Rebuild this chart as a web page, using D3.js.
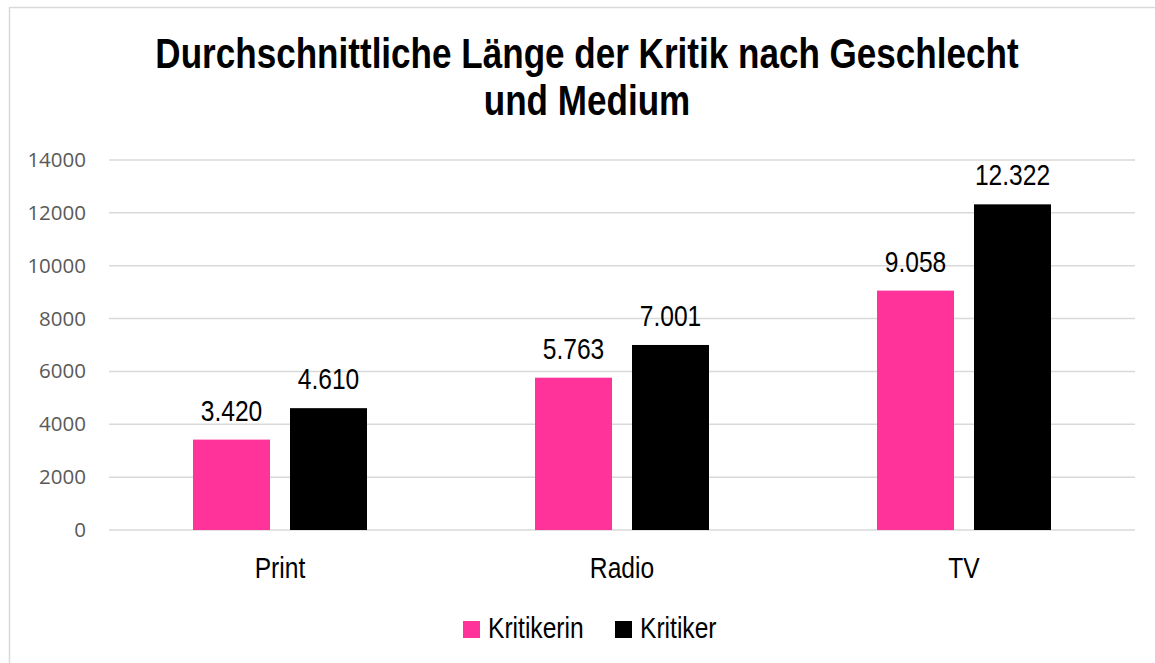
<!DOCTYPE html>
<html>
<head>
<meta charset="utf-8">
<script src="https://cdn.jsdelivr.net/npm/d3@7"></script>
<style>
  body { margin: 0; background: #fff; }
  .narrow { font-family: "Liberation Sans Narrow", "Arial Narrow", "Liberation Sans", Arial, sans-serif; }
</style>
</head>
<body>
<svg width="1155" height="663"></svg>
<script>
  var categories = ['Print', 'Radio', 'TV'];
  var seriesNames = ['Kritikerin', 'Kritiker'];
  var kritikerin = [3420, 5763, 9058];
  var kritiker = [4610, 7001, 12322];
  var yTicks = [0, 2000, 4000, 6000, 8000, 10000, 12000, 14000];
  var colors = ['#ff3399', '#000000'];

  (function() {
  'use strict';

  var svg = d3.select('svg');
  var plotLeft = 109, plotRight = 1135, plotTop = 160, plotBottom = 530;
  // no narrow font installed, so squeeze the regular one
  var squeeze = 0.82;

  function narrowAt(x, yy, k) {
    return 'translate(' + x + ',' + yy + ') scale(' + (k || squeeze) + ',1)';
  }

  // chart frame
  svg.append('rect')
    .attr('x', 9.5).attr('y', 7.5)
    .attr('width', 1160).attr('height', 670)
    .attr('fill', 'none')
    .attr('stroke', '#d9d9d9')
    .attr('stroke-width', 1.5);

  // title
  var titleLines = ['Durchschnittliche Länge der Kritik nach Geschlecht', 'und Medium'];
  svg.append('g')
    .selectAll('text')
    .data(titleLines)
    .join('text')
    .attr('class', 'narrow')
    .attr('text-anchor', 'middle')
    .attr('transform', function(d, i) { return narrowAt(587, 68 + i * 47, 0.835); })
    .style('font-size', '42px')
    .style('font-weight', 'bold')
    .attr('fill', '#000')
    .text(function(d) { return d; });

  var x0 = d3.scaleBand()
    .domain(categories)
    .range([plotLeft, plotRight]);

  var y = d3.scaleLinear()
    .domain([0, 14000])
    .range([plotBottom, plotTop]);

  var barWidth = 77, barGap = 20;
  var x1 = d3.scaleOrdinal()
    .domain(seriesNames)
    .range([-(barWidth + barGap / 2), barGap / 2]);

  // gridlines
  svg.append('g')
    .selectAll('line')
    .data(yTicks)
    .join('line')
    .attr('x1', plotLeft).attr('x2', plotRight)
    .attr('y1', function(d) { return y(d); })
    .attr('y2', function(d) { return y(d); })
    .attr('stroke', '#d9d9d9')
    .attr('stroke-width', 1.5);

  // y axis labels
  var yAxis = svg.append('g')
    .attr('transform', 'translate(' + (plotLeft - 23) + ',0)')
    .call(d3.axisLeft(y).tickValues(yTicks).tickSize(0).tickPadding(0).tickFormat(d3.format('d')));
  yAxis.select('.domain').remove();
  yAxis.selectAll('text')
    .attr('fill', '#595959')
    .style('font-family', '"Open Sans", sans-serif')
    .style('font-size', '20.5px');

  // x axis labels
  var xAxis = svg.append('g')
    .attr('transform', 'translate(0,' + plotBottom + ')')
    .call(d3.axisBottom(x0).tickSize(0).tickPadding(0));
  xAxis.select('.domain').remove();
  xAxis.selectAll('text')
    .attr('class', 'narrow')
    .attr('y', 0).attr('dy', null)
    .attr('transform', narrowAt(0, 48))
    .attr('fill', '#000')
    .style('font-size', '30px');

  var seriesData = [kritikerin, kritiker];
  var rows = [];
  seriesData.forEach(function(values, s) {
    values.forEach(function(v, i) {
      rows.push({ series: seriesNames[s], color: colors[s], cat: categories[i], value: v });
    });
  });

  function barX(d) {
    return x0(d.cat) + x0.bandwidth() / 2 + x1(d.series);
  }

  svg.append('g')
    .selectAll('rect')
    .data(rows)
    .join('rect')
    .attr('x', barX)
    .attr('y', function(d) { return y(d.value); })
    .attr('width', barWidth)
    .attr('height', function(d) { return y(0) - y(d.value); })
    .attr('fill', function(d) { return d.color; });

  var fmt = d3.formatLocale({ decimal: ',', thousands: '.', grouping: [3], currency: ['', ''] }).format(',d');

  svg.append('g')
    .selectAll('text')
    .data(rows)
    .join('text')
    .attr('class', 'narrow')
    .attr('text-anchor', 'middle')
    .attr('transform', function(d) { return narrowAt(barX(d) + barWidth / 2, y(d.value) - 19); })
    .style('font-size', '30px')
    .attr('fill', '#000')
    .text(function(d) { return fmt(d.value); });

  // legend
  var legendX = [463, 615];
  var legend = svg.append('g')
    .selectAll('g')
    .data(seriesNames)
    .join('g')
    .attr('transform', function(d, i) { return 'translate(' + legendX[i] + ',621)'; });
  legend.append('rect')
    .attr('width', 17).attr('height', 17)
    .attr('fill', function(d, i) { return colors[i]; });
  legend.append('text')
    .attr('class', 'narrow')
    .attr('transform', narrowAt(25, 17))
    .style('font-size', '30px')
    .attr('fill', '#000')
    .text(function(d) { return d; });
  })();
</script>
</body>
</html>
